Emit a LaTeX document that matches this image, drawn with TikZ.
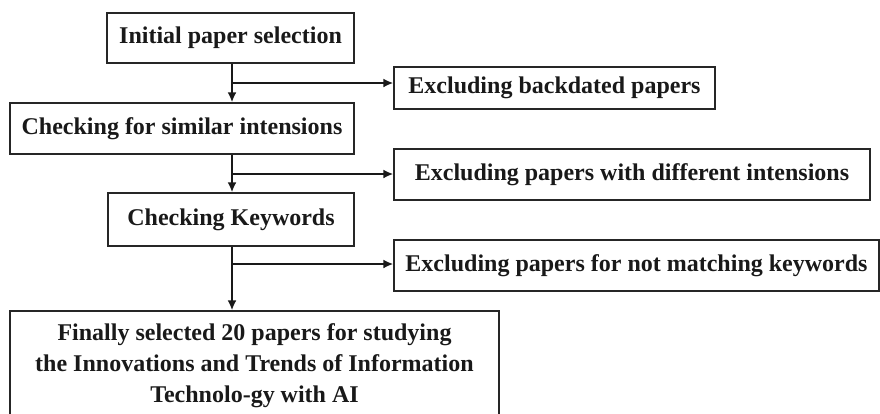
\documentclass[tikz,border=0pt]{standalone}
\usepackage{fontspec}
\setmainfont{Liberation Serif}
\usetikzlibrary{arrows.meta}
\begin{document}
\begin{tikzpicture}[x=1pt,y=-1pt,
  box/.style={draw=black!85, line width=1.3pt, inner sep=0pt, align=center,
    font=\fontsize{24}{31}\selectfont\bfseries, text=black!90},
  conn/.style={line width=2.6pt, draw=black!90},
  arr/.style={conn, -{Latex[length=10pt,width=9pt]}}]
\useasboundingbox (0,0) rectangle (880,413);
\clip (0,0) rectangle (880,413);
\node[box, minimum width=247pt, minimum height=50pt] (b1) at (230.5,38) {Initial paper selection};
\node[box, minimum width=321pt, minimum height=42pt] (e1) at (554.5,88) {Excluding backdated papers};
\node[box, minimum width=344pt, minimum height=51pt] (b2) at (182,128.5) {Checking for similar intensions};
\node[box, minimum width=476pt, minimum height=51pt] (e2) at (632,174.5) {Excluding papers with different intensions};
\node[box, minimum width=246pt, minimum height=53pt] (b3) at (231,219.5) {Checking Keywords};
\node[box, minimum width=485pt, minimum height=51pt] (e3) at (636.5,265.5) {Excluding papers for not matching keywords};
\node[box, minimum width=489pt, minimum height=110pt] (b4) at (254.5,366) {Finally selected 20 papers for studying\\the Innovations and Trends of Information\\Technolo-gy with AI};
\coordinate (s1) at (232,83);
\coordinate (s2) at (232,174);
\coordinate (s3) at (232,264);
\draw[arr] (b1.south -| s1) -- (s1 |- b2.north);
\draw[arr] (s1) -- (s1 -| e1.west);
\draw[arr] (b2.south -| s2) -- (s2 |- b3.north);
\draw[arr] (s2) -- (s2 -| e2.west);
\draw[arr] (b3.south -| s3) -- (s3 |- b4.north);
\draw[arr] (s3) -- (s3 -| e3.west);
\end{tikzpicture}
\end{document}
